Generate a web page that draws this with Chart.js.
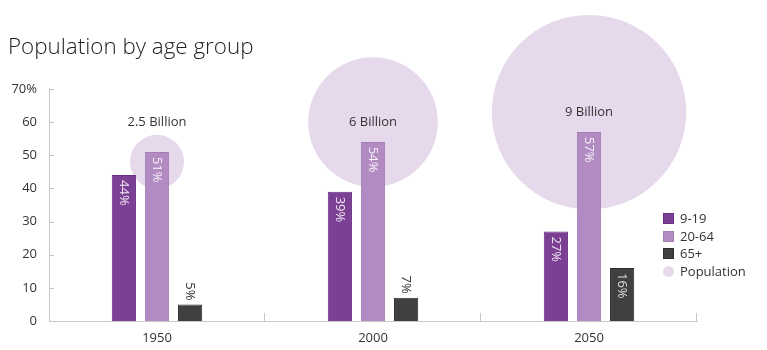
<!DOCTYPE html>
<html lang="en">
<head>
    <meta charset="UTF-8">
    <title>Population by age group</title>
    <script src="https://cdn.jsdelivr.net/npm/chart.js@4.4.1/dist/chart.umd.min.js"></script>
    <style>
        body { margin: 0; background: #fff; font-family: 'Open Sans', sans-serif; }
        #wrap { position: relative; width: 767px; height: 350px; }
        #legend { position: absolute; left: 663px; top: 210px; font-size: 13px; color: #333; }
        #legend div { height: 17.7px; line-height: 17.7px; white-space: nowrap; }
        #legend span { display: inline-block; width: 11px; height: 11px; margin-right: 6px; vertical-align: -1px; box-sizing: border-box; }
    </style>
</head>
<body>
<div id="wrap">
    <canvas id="chart" width="767" height="350"></canvas>
    <div id="legend"></div>
</div>
<script>
    // data
    const years = ['1950', '2000', '2050'];
    const youth = [44, 39, 27];      // 9-19
    const working = [51, 54, 57];    // 20-64
    const elderly = [5, 7, 16];      // 65+
    const population = [2.5, 6, 9];  // billions
    const popLabels = ['2.5 Billion', '6 Billion', '9 Billion'];
    const popY = [48, 60, 63];       // where the circles sit on the y axis

    const colors = {
        youth: '#7b3f93',
        working: '#b18bc1',
        elderly: '#404040',
        pop: '#e5d9eb'
    };
    const pxPerBillion = 10.8;

    // big bubbles would otherwise shrink the plot area to make room for themselves
    Chart.BubbleController.prototype.getMaxOverflow = () => 0;

    // value labels, rotated, plus the bubble captions
    const labelPlugin = {
        id: 'labels',
        afterDatasetsDraw(chart) {
            const ctx = chart.ctx;
            ctx.save();
            ctx.font = '13px "Open Sans", sans-serif';
            chart.data.datasets.forEach((ds, di) => {
                if (ds.type !== 'bar') return;
                chart.getDatasetMeta(di).data.forEach((bar, i) => {
                    const v = ds.data[i];
                    ctx.save();
                    if (v < 10) {
                        ctx.translate(bar.x, bar.y - 4);
                        ctx.rotate(Math.PI / 2);
                        ctx.textAlign = 'right';
                        ctx.fillStyle = '#333';
                    } else {
                        ctx.translate(bar.x, bar.y + 5);
                        ctx.rotate(Math.PI / 2);
                        ctx.textAlign = 'left';
                        ctx.fillStyle = ds.labelColor;
                    }
                    ctx.textBaseline = 'middle';
                    ctx.fillText(v + '%', 0, 0);
                    ctx.restore();
                });
            });
            // bubble captions
            const bmeta = chart.getDatasetMeta(0);
            ctx.font = '13px "Open Sans", sans-serif';
            ctx.fillStyle = '#333';
            ctx.textAlign = 'center';
            ctx.textBaseline = 'middle';
            bmeta.data.forEach((pt, i) => {
                const r = population[i] * pxPerBillion;
                const y = r < 40 ? pt.y - 40 : pt.y;
                ctx.fillText(popLabels[i], pt.x, y);
            });
            ctx.restore();
        },
        afterDraw(chart) {
            // small inward ticks on both axes
            const ctx = chart.ctx;
            const a = chart.chartArea;
            const ys = chart.scales.y;
            ctx.save();
            ctx.strokeStyle = '#c8c8c8';
            ctx.lineWidth = 1;
            ctx.beginPath();
            ys.ticks.forEach(t => {
                const y = Math.round(ys.getPixelForValue(t.value)) + 0.5;
                ctx.moveTo(a.left, y);
                ctx.lineTo(a.left + 5, y);
            });
            const w = (a.right - a.left) / years.length;
            for (let i = 1; i <= years.length; i++) {
                const x = Math.round(a.left + i * w) - 0.5;
                ctx.moveTo(x, a.bottom);
                ctx.lineTo(x, a.bottom - 8);
            }
            ctx.stroke();
            ctx.restore();
        }
    };

    const ctx = document.getElementById('chart').getContext('2d');
    const chart = new Chart(ctx, {
        data: {
            labels: years,
            datasets: [
                {
                    type: 'bubble',
                    label: 'Population',
                    data: years.map((y, i) => ({ x: y, y: popY[i], r: population[i] * pxPerBillion })),
                    backgroundColor: colors.pop,
                    borderWidth: 0,
                    order: 10,
                    clip: false
                },
                {
                    type: 'bar',
                    label: '9-19',
                    data: youth,
                    backgroundColor: colors.youth,
                    borderColor: '#6c2f85',
                    borderWidth: 1,
                    labelColor: '#efe6f3',
                    categoryPercentage: 0.46,
                    barPercentage: 0.73,
                    order: 1
                },
                {
                    type: 'bar',
                    label: '20-64',
                    data: working,
                    backgroundColor: colors.working,
                    borderColor: '#a47db5',
                    borderWidth: 1,
                    labelColor: '#f7f1f9',
                    categoryPercentage: 0.46,
                    barPercentage: 0.73,
                    order: 1
                },
                {
                    type: 'bar',
                    label: '65+',
                    data: elderly,
                    backgroundColor: colors.elderly,
                    borderColor: '#2e2e2e',
                    borderWidth: 1,
                    labelColor: '#dddddd',
                    categoryPercentage: 0.46,
                    barPercentage: 0.73,
                    order: 1
                }
            ]
        },
        options: {
            responsive: false,
            animation: false,
            layout: { padding: { left: 8, right: 70, top: 0, bottom: 0 } },
            plugins: {
                legend: { display: false },
                tooltip: { enabled: false },
                title: {
                    display: true,
                    text: 'Population by age group',
                    align: 'start',
                    color: '#222',
                    font: { family: '"Open Sans", sans-serif', size: 22.4, weight: '300' },
                    padding: { top: 34, bottom: 28 }
                }
            },
            scales: {
                x: {
                    type: 'category',
                    offset: true,
                    grid: { display: false, drawTicks: false },
                    border: { color: '#c8c8c8' },
                    ticks: { color: '#333', font: { family: '"Open Sans", sans-serif', size: 13 }, padding: 9 },
                    afterFit(s) { s.height = 29; }
                },
                y: {
                    min: 0,
                    max: 70,
                    grid: { display: false, drawTicks: false },
                    border: { color: '#c8c8c8' },
                    ticks: {
                        stepSize: 10,
                        color: '#333',
                        padding: 12,
                        font: { family: '"Open Sans", sans-serif', size: 13 },
                        callback: v => v === 70 ? '70%' : v
                    },
                    afterFit(s) { s.width = 41; }
                }
            }
        },
        plugins: [labelPlugin]
    });

    // legend
    const legend = document.getElementById('legend');
    [['9-19', colors.youth, '#6c2f85'], ['20-64', colors.working, '#a47db5'], ['65+', colors.elderly, '#2e2e2e']].forEach(([t, c, b]) => {
        legend.insertAdjacentHTML('beforeend', `<div><span style="background:${c};border:1px solid ${b}"></span>${t}</div>`);
    });
    legend.insertAdjacentHTML('beforeend', `<div><span style="background:${colors.pop};border-radius:50%"></span>Population</div>`);
</script>
</body>
</html>
